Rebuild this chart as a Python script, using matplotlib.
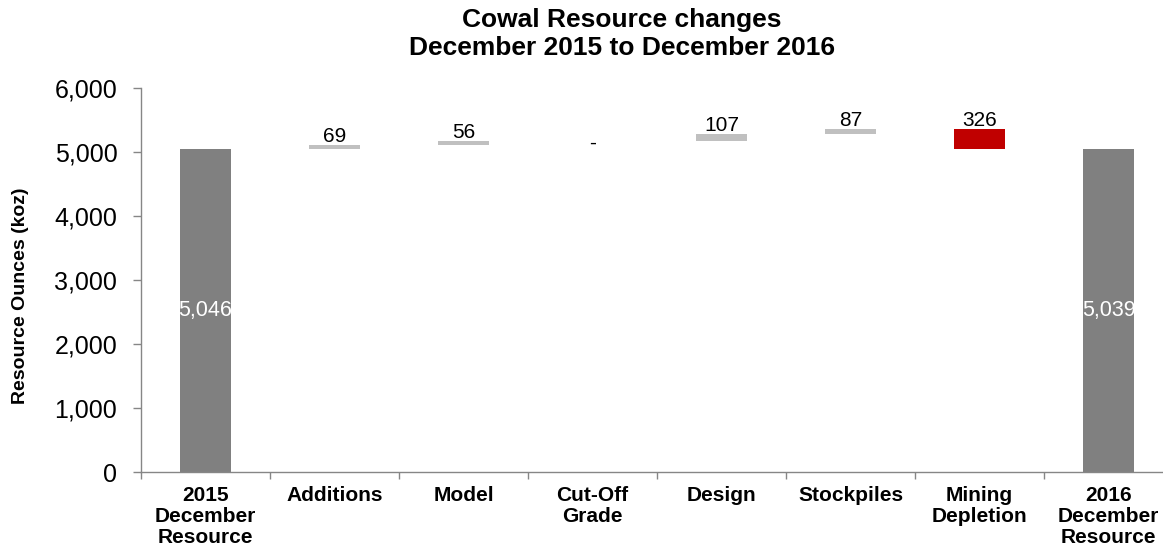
import numpy as np
import matplotlib
matplotlib.use("Agg")
import matplotlib.pyplot as plt
from matplotlib.ticker import FuncFormatter, FixedLocator

plt.rcParams['font.family'] = ['Liberation Sans', 'DejaVu Sans']

# data (koz)
categories = ['2015\nDecember\nResource', 'Additions', 'Model', 'Cut-Off\nGrade',
              'Design', 'Stockpiles', 'Mining\nDepletion', '2016\nDecember\nResource']
start_total = 5046
end_total = 5039
changes = [69, 56, 0, 107, 87, -326]

# waterfall geometry
running = start_total + np.concatenate([[0], np.cumsum(changes)])
step_bottoms = np.minimum(running[:-1], running[1:])
step_heights = np.abs(changes)

fig = plt.figure(figsize=(11.63, 5.52), dpi=100)
ax = fig.add_axes([0.1212, 0.1449, 0.8874, 0.6957])

x = np.arange(len(categories))
bw = 0.395

# totals
ax.bar([x[0], x[-1]], [start_total, end_total], width=bw, color='#808080', zorder=2)
for xi, v in [(x[0], start_total), (x[-1], end_total)]:
    ax.text(xi, v / 2, f'{v:,}', ha='center', va='center', color='white', fontsize=15.5)

# steps
step_colors = ['#C0C0C0' if c >= 0 else '#C00000' for c in changes]
ax.bar(x[1:-1], step_heights, bottom=step_bottoms, width=bw, color=step_colors, zorder=2)
for xi, c, b, h in zip(x[1:-1], changes, step_bottoms, step_heights):
    if c == 0:
        ax.annotate('-', (xi, b), xytext=(0, -2), textcoords='offset pixels',
                    ha='center', va='center', fontsize=15)
    else:
        ax.annotate(f'{abs(c):,}', (xi, b + h), xytext=(0, 3), textcoords='offset pixels',
                    ha='center', va='baseline', fontsize=15)

# axes styling
ax.set_xlim(-0.5, len(categories) - 0.5)
ax.set_ylim(0, 6000)
ax.set_yticks(np.arange(0, 6001, 1000))
ax.yaxis.set_major_formatter(FuncFormatter(lambda v, p: f'{int(v):,}'))
ax.tick_params(axis='y', labelsize=18, length=6, width=1, color='#868686', pad=11)

ax.set_xticks(x)
ax.set_xticklabels(categories, fontsize=15, fontweight='bold', linespacing=1.13)
ax.xaxis.set_minor_locator(FixedLocator(np.arange(-0.5, len(categories), 1)))
ax.tick_params(axis='x', which='major', length=0, pad=10)
ax.tick_params(axis='x', which='minor', length=5, width=1, color='#868686')

for s in ['top', 'right']:
    ax.spines[s].set_visible(False)
for s in ['left', 'bottom']:
    ax.spines[s].set_color('#868686')
    ax.spines[s].set_linewidth(1)

fig.text(0.018, 0.464, 'Resource Ounces (koz)', rotation=90, ha='center', va='center',
         fontsize=14, fontweight='bold')
fig.text(0.535, 0.985, 'Cowal Resource changes\nDecember 2015 to December 2016',
         ha='center', va='top', fontsize=19, fontweight='bold')

fig.savefig('out.png', dpi=100)
